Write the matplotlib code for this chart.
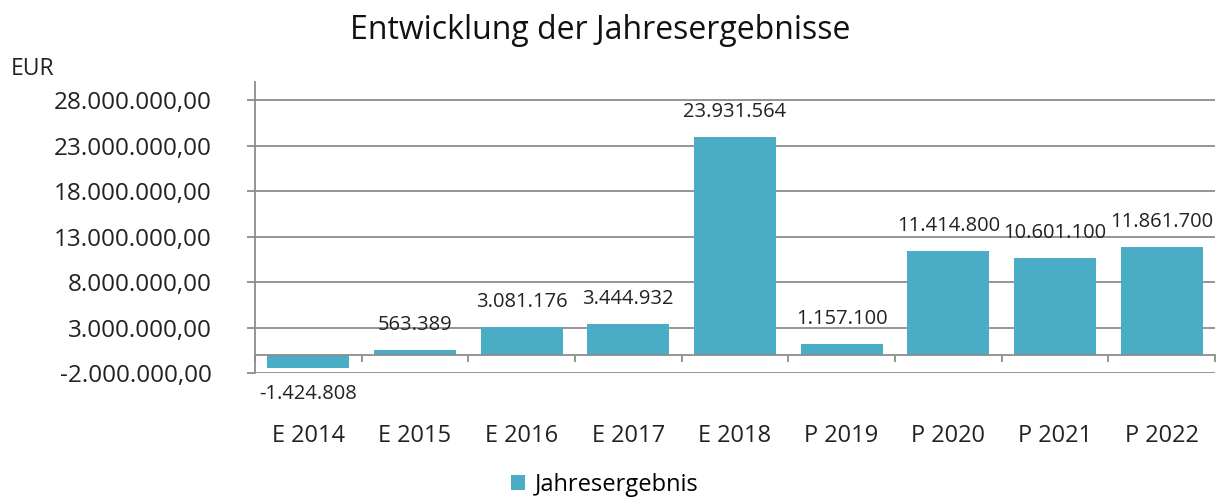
import matplotlib
matplotlib.use("Agg")
import matplotlib.pyplot as plt
import numpy as np
from matplotlib.ticker import FixedLocator

plt.rcParams['font.family'] = ['Open Sans', 'DejaVu Sans']

categories = ["E 2014", "E 2015", "E 2016", "E 2017", "E 2018", "P 2019", "P 2020", "P 2021", "P 2022"]
values = [-1424808, 563389, 3081176, 3444932, 23931564, 1157100, 11414800, 10601100, 11861700]
yticks = [-2000000, 3000000, 8000000, 13000000, 18000000, 23000000, 28000000]

def de_fmt(v, dec=0):
    s = f"{v:,.{dec}f}"
    return s.replace(",", "X").replace(".", ",").replace("X", ".")

fig = plt.figure(figsize=(12.24, 4.98), dpi=100)
ax = fig.add_axes([0.2083, 0.251, 0.7843, 0.584])

x = np.arange(len(categories))
color = "#4BACC6"
bars = ax.bar(x, values, width=0.77, color=color, label="Jahresergebnis", zorder=3)

ax.set_xlim(-0.5, len(categories) - 0.5)
ax.set_ylim(-2000000, 30000000)
ax.yaxis.set_major_locator(FixedLocator(yticks))
ax.set_yticklabels([de_fmt(t, 2) for t in yticks], fontsize=17.5, color="#222222")
ax.grid(axis="y", color="#8c8c8c", linewidth=1.3, zorder=0)
ax.tick_params(axis="y", length=6, width=1.3, color="#8c8c8c", pad=25)

for s in ["top", "right"]:
    ax.spines[s].set_visible(False)
ax.spines["left"].set_color("#8c8c8c")
ax.spines["left"].set_linewidth(1.3)
ax.spines["bottom"].set_position(("data", 0))
ax.spines["bottom"].set_color("#8c8c8c")
ax.spines["bottom"].set_linewidth(1.3)
ax.spines["bottom"].set_zorder(4)

ax.set_xticks(x)
ax.set_xticklabels(categories, fontsize=17, color="#222222")
ax.tick_params(axis="x", which="major", length=0, pad=50)
ax.set_xticks(np.arange(len(categories) + 1) - 0.5, minor=True)
ax.tick_params(axis="x", which="minor", length=5, width=1.3, color="#8c8c8c", direction="out")

for b, v in zip(bars, values):
    if v >= 0:
        ax.annotate(de_fmt(v), (b.get_x() + b.get_width() / 2, v), xytext=(0, 18),
                    textcoords="offset points", ha="center", va="center", fontsize=14.5, color="#222222")
    else:
        ax.annotate(de_fmt(v), (b.get_x() + b.get_width() / 2, v), xytext=(0, -19),
                    textcoords="offset points", ha="center", va="center", fontsize=14.5, color="#222222")

fig.text(0.49, 0.938, "Entwicklung der Jahresergebnisse", ha="center", va="center", fontsize=23, color="#111111")
fig.text(0.009, 0.862, "EUR", ha="left", va="center", fontsize=16.5, color="#222222")

leg = fig.legend(loc="center", bbox_to_anchor=(0.494, 0.026), frameon=False, fontsize=17,
                 handlelength=0.6, handleheight=0.6, handletextpad=0.4)

fig.savefig("out.png", dpi=100)
